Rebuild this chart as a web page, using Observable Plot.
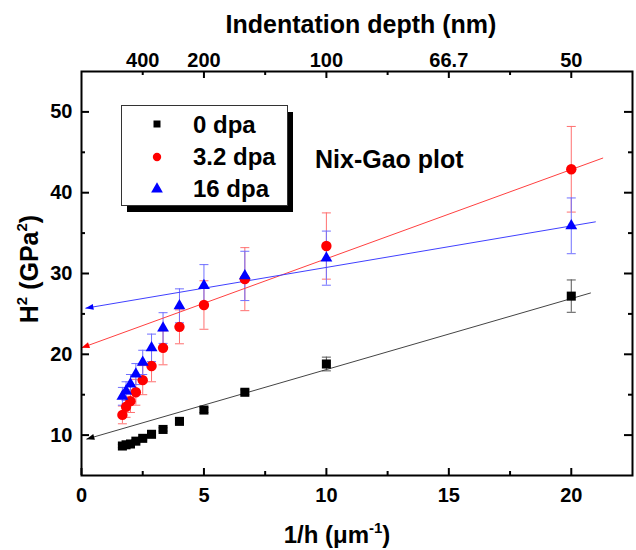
<!DOCTYPE html>
<html>
<head>
<meta charset="utf-8">
<script src="https://cdn.jsdelivr.net/npm/d3@7"></script>
<script src="https://cdn.jsdelivr.net/npm/@observablehq/plot@0.6"></script>
<style>
  html, body { margin: 0; padding: 0; background: #fff; }
  #wrap { position: relative; width: 636px; height: 550px; font-family: "Liberation Sans", Arial, sans-serif; }
  #wrap > svg { position: absolute; left: 0; top: 0; }
</style>
</head>
<body>
<div id="wrap"></div>
<script>
// ---- data ----
const invDepth = [20, 10, 6.67, 5, 4, 3.33, 2.86, 2.5, 2.22, 2.0, 1.82, 1.67]; // 1/h (µm^-1)
const seriesNames = ["0 dpa", "3.2 dpa", "16 dpa"];
const h2_0   = [27.2, 18.8, 15.3, 13.1, 11.7, 10.7, 10.1, 9.6, 9.25, 8.9, 8.8, 8.65];
const err_0  = [2.0, 0.85, 0.3, 0.3, 0.3, 0.2, 0.2, 0.2, 0.2, 0.2, 0.2, 0.2];
const h2_32  = [42.9, 33.4, 29.3, 26.1, 23.4, 20.8, 18.55, 16.8, 15.3, 14.2, 13.5, 12.5];
const err_32 = [5.3, 4.1, 3.9, 3.0, 2.1, 2.1, 1.95, 1.8, 1.6, 1.4, 1.3, 1.1];
const h2_16  = [35.9, 31.9, 29.7, 28.5, 26.0, 23.25, 20.8, 19.0, 17.55, 16.3, 15.45, 14.8];
const err_16 = [3.45, 3.35, 3.05, 2.6, 2.1, 1.9, 1.7, 1.5, 1.3, 1.2, 1.15, 1.1];
// Nix-Gao linear fits: end points, arrow points to the left end
const fitXStart = [0.2, 0.0, 0.16];
const fitYStart = [9.5, 20.8, 25.7];
const fitXEnd   = [20.8, 21.3, 21.0];
const fitYEnd   = [27.6, 44.3, 36.4];
// axes
const xTicks = [0, 5, 10, 15, 20];
const xMinor = [2.5, 7.5, 12.5, 17.5];
const yTicks = [10, 20, 30, 40, 50];
const yMinor = [15, 25, 35, 45];
const topTickPos = [2.5, 5, 10, 15, 20];
const topTickLabels = ["400", "200", "100", "66.7", "50"];
const topMajor = [5, 10, 15, 20];
const topMinor = [2.5, 7.5, 12.5, 17.5];

// ---- style ----
const colors = ["#000000", "#ff0000", "#0000ff"];
const errColors = ["#555555", "#ff7070", "#7070ff"];
const fitColors = ["#444444", "#ff4040", "#4040ff"];
const symbols = ["square", "circle", "triangle"];
const radii = [5.1, 5.2, 4.4];

const W = 636, H = 550;
const mL = 81, mR = 4, mT = 71, mB = 75;
const innerW = W - mL - mR, innerH = H - mT - mB;
const xDomain = [0, 22.5], yDomain = [5, 55];
const kx = innerW / (xDomain[1] - xDomain[0]), ky = innerH / (yDomain[1] - yDomain[0]);

const yArrays = [h2_0, h2_32, h2_16];
const eArrays = [err_0, err_32, err_16];
const rows = seriesNames.map((s, k) => invDepth.map((x, i) => ({series: s, x, y: yArrays[k][i], err: eArrays[k][i]})));
const fits = seriesNames.map((s, k) => ({series: s, x1: fitXEnd[k], y1: fitYEnd[k], x2: fitXStart[k], y2: fitYStart[k]}));
const topLabel = new Map(topTickPos.map((d, i) => [d, topTickLabels[i]]));

const capSymbol = { draw(ctx) { ctx.moveTo(-4.5, 0); ctx.lineTo(4.5, 0); } };
// filled arrow head with its tip at the origin, pointing left
const headSymbol = { draw(ctx) { ctx.moveTo(0, 0); ctx.lineTo(8, -3); ctx.lineTo(8, 3); ctx.closePath(); } };

const marks = [];
// error bars
seriesNames.forEach((s, k) => {
  marks.push(Plot.ruleX(rows[k], {x: "x", y1: d => d.y - d.err, y2: d => d.y + d.err, stroke: errColors[k], strokeWidth: 1}));
  marks.push(Plot.dot(rows[k], {x: "x", y: d => d.y + d.err, symbol: capSymbol, fill: "none", stroke: errColors[k], strokeWidth: 1}));
  marks.push(Plot.dot(rows[k], {x: "x", y: d => d.y - d.err, symbol: capSymbol, fill: "none", stroke: errColors[k], strokeWidth: 1}));
});
// fit lines with filled arrow heads at the left end
seriesNames.forEach((s, k) => {
  marks.push(Plot.link([fits[k]], {x1: "x1", y1: "y1", x2: "x2", y2: "y2", stroke: fitColors[k], strokeWidth: 1}));
  marks.push(Plot.dot([fits[k]], {
    x: "x2", y: "y2", symbol: headSymbol, fill: colors[k], stroke: "none",
    rotate: d => -Math.atan2((d.y1 - d.y2) * ky, (d.x1 - d.x2) * kx) * 180 / Math.PI
  }));
});
// markers
seriesNames.forEach((s, k) => {
  marks.push(Plot.dot(rows[k], {x: "x", y: "y", symbol: symbols[k], r: radii[k], fill: colors[k], stroke: "none"}));
});
// tick marks (inward)
marks.push(Plot.tickX(xTicks, {x: d => d, insetTop: innerH - 7, strokeWidth: 2}));
marks.push(Plot.tickX(xMinor, {x: d => d, insetTop: innerH - 4, strokeWidth: 2}));
marks.push(Plot.tickX(topMajor, {x: d => d, insetBottom: innerH - 7, strokeWidth: 2}));
marks.push(Plot.tickX(topMinor, {x: d => d, insetBottom: innerH - 4, strokeWidth: 2}));
marks.push(Plot.tickY(yTicks, {y: d => d, insetRight: innerW - 8, strokeWidth: 2}));
marks.push(Plot.tickY(yMinor, {y: d => d, insetRight: innerW - 4, strokeWidth: 2}));
marks.push(Plot.tickY(yTicks, {y: d => d, insetLeft: innerW - 8, strokeWidth: 2}));
marks.push(Plot.tickY(yMinor, {y: d => d, insetLeft: innerW - 4, strokeWidth: 2}));
// tick labels
const axisFont = {fontSize: 20, fontWeight: "bold", fill: "#000"};
marks.push(Plot.axisX(xTicks, {anchor: "bottom", tickSize: 0, tickPadding: 12, label: null, ...axisFont}));
marks.push(Plot.axisX(topTickPos, {anchor: "top", tickSize: 0, tickPadding: 5, label: null, tickFormat: d => topLabel.get(d), ...axisFont}));
marks.push(Plot.axisY(yTicks, {anchor: "left", tickSize: 0, tickPadding: 9, label: null, ...axisFont}));
marks.push(Plot.frame({stroke: "#000", strokeWidth: 2}));

const chart = Plot.plot({
  width: W, height: H,
  marginLeft: mL, marginRight: mR, marginTop: mT, marginBottom: mB,
  x: {domain: xDomain, axis: null},
  y: {domain: yDomain, axis: null},
  style: {fontFamily: '"Liberation Sans", Arial, sans-serif', fontWeight: "bold", fontSize: "20px", background: "white", color: "#000", overflow: "visible"},
  marks
});
const wrap = document.getElementById("wrap");
wrap.appendChild(chart);

// ---- overlay: titles, annotation and legend ----
const ov = d3.select(wrap).append("svg").attr("width", W).attr("height", H)
  .style("pointer-events", "none")
  .attr("font-family", '"Liberation Sans", Arial, sans-serif').attr("font-weight", "bold");

ov.append("text").attr("x", 361).attr("y", 33).attr("text-anchor", "middle").attr("font-size", 25)
  .text("Indentation depth (nm)");

const xt = ov.append("text").attr("x", 337).attr("y", 543).attr("text-anchor", "middle").attr("font-size", 24);
xt.append("tspan").text("1/h  (μm");
xt.append("tspan").attr("font-size", 15).attr("dy", -10).text("-1");
xt.append("tspan").attr("dy", 10).text(")");

const yt = ov.append("text").attr("transform", "translate(38,269) rotate(-90)").attr("text-anchor", "middle").attr("font-size", 25);
yt.append("tspan").text("H");
yt.append("tspan").attr("font-size", 15).attr("dy", -11).text("2");
yt.append("tspan").attr("dy", 11).text(" (GPa");
yt.append("tspan").attr("font-size", 15).attr("dy", -11).text("2");
yt.append("tspan").attr("dy", 11).text(")");

ov.append("text").attr("x", 315).attr("y", 168).attr("font-size", 25).text("Nix-Gao plot");

// legend
const lg = ov.append("g");
lg.append("rect").attr("x", 127).attr("y", 112).attr("width", 166).attr("height", 100).attr("fill", "#000");
lg.append("rect").attr("x", 121.5).attr("y", 105.5).attr("width", 166).attr("height", 100).attr("fill", "#fff").attr("stroke", "#333").attr("stroke-width", 1);
const legY = [124, 157, 189];
const legBase = [133, 165, 197];
const legSyms = [d3.symbolSquare, d3.symbolCircle, d3.symbolTriangle];
const legSizes = [49, 55, 60];
seriesNames.forEach((s, k) => {
  lg.append("path").attr("d", d3.symbol(legSyms[k], legSizes[k])()).attr("transform", `translate(157,${legY[k]})`).attr("fill", colors[k]);
  lg.append("text").attr("x", 193).attr("y", legBase[k]).attr("font-size", 24).text(s);
});
</script>
</body>
</html>
